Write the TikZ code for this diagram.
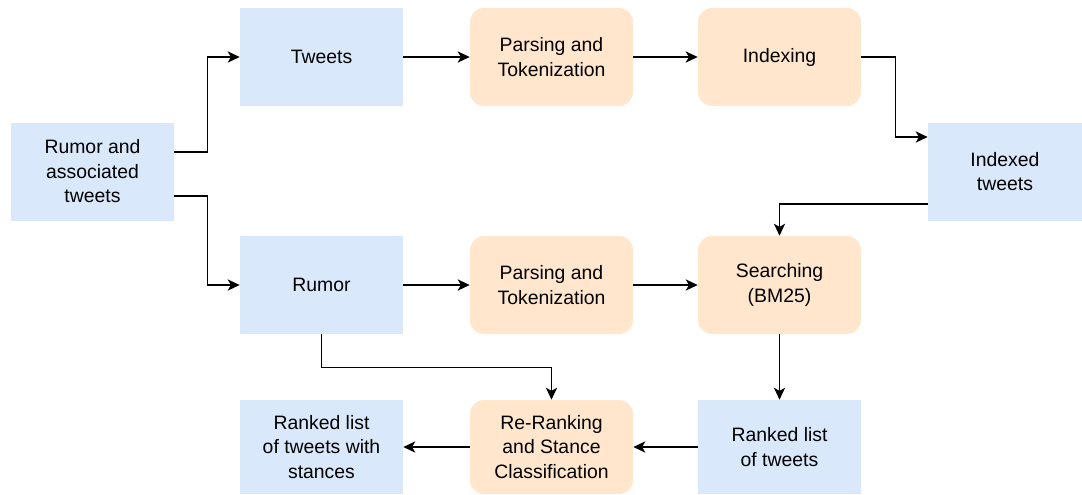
\documentclass[tikz,border=0pt]{standalone}
\usepackage{fontspec}
\setmainfont{Liberation Sans}
\usetikzlibrary{arrows.meta,positioning,calc}
\definecolor{BoxBlue}{HTML}{DAE8FC}
\definecolor{BoxOrange}{HTML}{FFE6CC}
\tikzset{
  flow/.style={-{Stealth[length=3mm,width=2.8mm,inset=0.8mm]}, line width=1pt, draw=black},
  datum/.style={fill=BoxBlue, draw=none, minimum width=4.075cm, minimum height=2.45cm,
                align=center, inner sep=2pt, font=\fontsize{13.8}{17.4}\selectfont},
  proc/.style={datum, fill=BoxOrange, rounded corners=3.5mm},
}
\begin{document}
\begin{tikzpicture}
  \useasboundingbox (0,0) rectangle (27.05,-12.35);
  % data and processing boxes
  \node[datum] (assoc) at (2.3125,-4.2875) {Rumor and\\associated\\tweets};
  \node[datum] (tweets) at (8.0375,-1.425) {Tweets};
  \node[proc] (parseA) at (13.7875,-1.425) {Parsing and\\Tokenization};
  \node[proc] (index) at (19.4875,-1.425) {Indexing};
  \node[datum, minimum width=3.85cm] (indexed) at (25.125,-4.2875) {Indexed\\tweets};
  \node[datum] (rumor) at (8.0375,-7.125) {Rumor};
  \node[proc] (parseB) at (13.7875,-7.125) {Parsing and\\Tokenization};
  \node[proc] (search) at (19.4875,-7.125) {Searching\\(BM25)};
  \node[datum, minimum height=2.35cm] (ranked) at (19.4875,-11.175) {Ranked list\\of tweets};
  \node[proc, minimum height=2.35cm] (rerank) at (13.7875,-11.175) {Re-Ranking\\and Stance\\Classification};
  \node[datum, minimum height=2.35cm] (final) at (8.0375,-11.175) {Ranked list\\of tweets with\\stances};
  % connectors
  \draw[flow] ($(assoc.east)+(0,0.4875)$) -- ++(0.825,0) |- (tweets.west);
  \draw[flow] ($(assoc.east)+(0,-0.6125)$) -- ++(0.825,0) |- (rumor.west);
  \draw[flow] (tweets) -- (parseA);
  \draw[flow] (parseA) -- (index);
  \draw[flow] (index.east) -- ++(0.85,0) |- ($(indexed.west)+(0,0.8625)$);
  \draw[flow] ($(indexed.west)+(0,-0.8125)$) -| (search.north);
  \draw[flow] (rumor) -- (parseB);
  \draw[flow] (parseB) -- (search);
  \draw[flow] (search) -- (ranked);
  \draw[flow] (rumor.south) -- ++(0,-0.825) -| (rerank.north);
  \draw[flow] (ranked) -- (rerank);
  \draw[flow] (rerank) -- (final);
\end{tikzpicture}
\end{document}
